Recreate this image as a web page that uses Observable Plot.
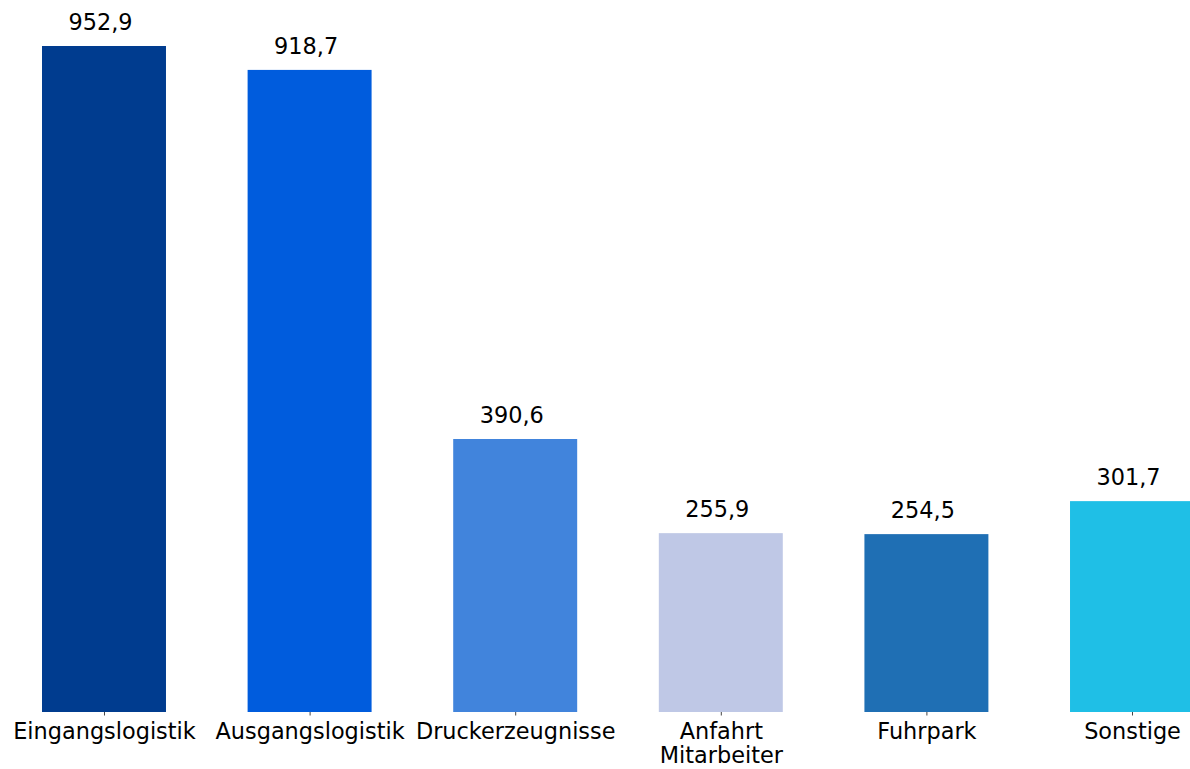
<!DOCTYPE html>
<html>
<head>
<meta charset="utf-8">
<script src="https://cdn.jsdelivr.net/npm/d3@7"></script>
<script src="https://cdn.jsdelivr.net/npm/@observablehq/plot@0.6"></script>
<style>
  html, body { margin: 0; padding: 0; background: #fff; }
  #chart svg { overflow: hidden; }
</style>
</head>
<body>
<div id="chart"></div>
<script>
const categories = ["Eingangslogistik", "Ausgangslogistik", "Druckerzeugnisse", "Anfahrt\nMitarbeiter", "Fuhrpark", "Sonstige"];
const values = [952.9, 918.7, 390.6, 255.9, 254.5, 301.7];
const colors = ["#003C8F", "#005CDD", "#4184DC", "#BFC8E6", "#1F6FB4", "#1FBFE6"];

const data = categories.map((c, i) => ({category: c, value: values[i], color: colors[i]}));
const fmt = d3.formatLocale({decimal: ",", thousands: ".", grouping: [3], currency: ["", "€"]}).format(".1f");

const chart = Plot.plot({
  width: 1190,
  height: 769,
  marginTop: 46,
  marginBottom: 57,
  marginLeft: 0,
  marginRight: 0,
  style: {fontFamily: "DejaVu Sans", fontSize: "22.4px", color: "#000", background: "#fff"},
  x: {domain: categories, range: [42, 1194], paddingInner: 0.397, paddingOuter: 0, round: false},
  y: {domain: [0, d3.max(values)], axis: null},
  marks: [
    Plot.barY(data, {x: "category", y: "value", fill: "color"}),
    Plot.text(data, {x: "category", y: "value", text: d => fmt(d.value), lineAnchor: "bottom", dx: -4, dy: -16.5, fill: "#000", fontSize: 22.4}),
    Plot.axisX({tickSize: 3.5, tickPadding: 6, stroke: "#444", fill: "#000", fontSize: 22.4, lineHeight: 1.08, label: null})
  ]
});
document.getElementById("chart").appendChild(chart);
</script>
</body>
</html>
